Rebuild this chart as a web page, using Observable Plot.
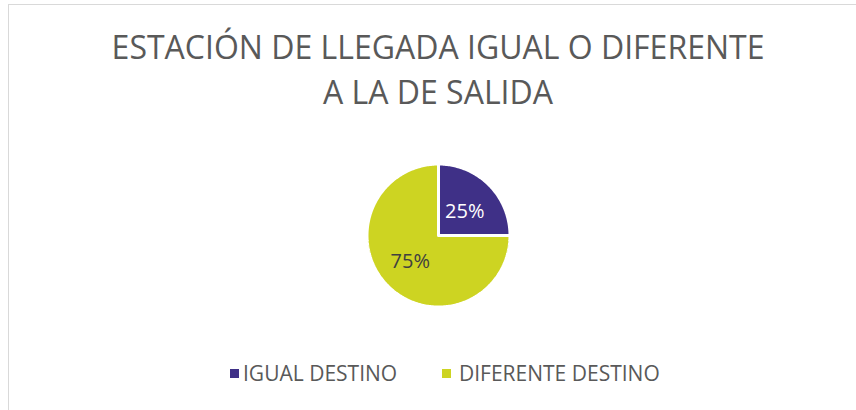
<!DOCTYPE html>
<html>
<head>
<meta charset="utf-8">
<script src="https://cdn.jsdelivr.net/npm/d3@7"></script>
<script src="https://cdn.jsdelivr.net/npm/@observablehq/plot@0.6"></script>
<style>
  html, body { margin: 0; padding: 0; background: #fff; }
  #wrap { position: relative; width: 856px; height: 410px; overflow: hidden; }
  #frame { position: absolute; left: 8px; top: 4px; right: -10px; bottom: -10px;
           border-left: 1px solid #d9d9d9; border-top: 1px solid #d9d9d9; }
  #chart, #overlay { position: absolute; left: 0; top: 0; }
</style>
</head>
<body>
<div id="wrap">
  <div id="frame"></div>
  <div id="chart"></div>
  <svg id="overlay" width="856" height="410"></svg>
</div>
<script>
// ---- data ----
const categories = ["IGUAL DESTINO", "DIFERENTE DESTINO"];
const values = [25, 75];
const colors = ["#3f3087", "#cdd422"];
const titleLines = ["ESTACIÓN DE LLEGADA IGUAL O DIFERENTE", "A LA DE SALIDA"];

// ---- build slice geometry from the values ----
const R = 71.5;
const total = d3.sum(values);
const pts = [];
const labelData = [];
let acc = 0;
values.forEach((v, i) => {
  const a0 = acc / total * 2 * Math.PI;
  acc += v;
  const a1 = acc / total * 2 * Math.PI;
  pts.push({cat: categories[i], x: 0, y: 0});
  const n = Math.max(2, Math.ceil((a1 - a0) / (Math.PI / 180)));
  for (let k = 0; k <= n; k++) {
    const a = a0 + (a1 - a0) * k / n;
    pts.push({cat: categories[i], x: R * Math.sin(a), y: R * Math.cos(a)});
  }
  pts.push({cat: categories[i], x: 0, y: 0});
  const am = (a0 + a1) / 2;
  const rl = R * 0.52;
  labelData.push({cat: categories[i], x: rl * Math.sin(am), y: rl * Math.cos(am),
                  text: Math.round(v / total * 100) + "%", i});
});

const font = "Open Sans, sans-serif";

const chart = Plot.plot({
  width: 856,
  height: 410,
  margin: 0,
  x: {domain: [-438, 418], axis: null},
  y: {domain: [-175, 235], axis: null},
  color: {domain: categories, range: colors},
  style: {background: "transparent"},
  marks: [
    Plot.line(pts, {x: "x", y: "y", z: "cat", fill: "cat", stroke: "white",
                    strokeWidth: 3, curve: "linear", strokeLinejoin: "miter"}),
    Plot.text(labelData.filter(d => d.i === 0), {x: "x", y: "y", text: "text",
              fill: "white", fontSize: 20, fontFamily: font, dy: 2}),
    Plot.text(labelData.filter(d => d.i === 1), {x: "x", y: "y", text: "text",
              fill: "#404040", fontSize: 20, fontFamily: font, dx: -2})
  ]
});
document.getElementById("chart").appendChild(chart);

// ---- title and legend ----
const ov = d3.select("#overlay");
ov.selectAll("text.title").data(titleLines).join("text")
  .attr("class", "title")
  .attr("x", 438)
  .attr("y", (d, i) => 59 + i * 45)
  .attr("text-anchor", "middle")
  .attr("fill", "#595959")
  .style("font-family", font)
  .style("font-size", "32px")
  .text(d => d);

const legSq = [230, 442];
const legTx = [243, 459];
const lg = ov.selectAll("g.leg").data(categories).join("g").attr("class", "leg");
lg.append("rect").attr("x", (d, i) => legSq[i]).attr("y", 369).attr("width", 9).attr("height", 9)
  .attr("fill", (d, i) => colors[i]);
lg.append("text").attr("x", (d, i) => legTx[i]).attr("y", 380.5)
  .attr("fill", "#595959")
  .style("font-family", font).style("font-size", "21px")
  .text(d => d);
</script>
</body>
</html>
